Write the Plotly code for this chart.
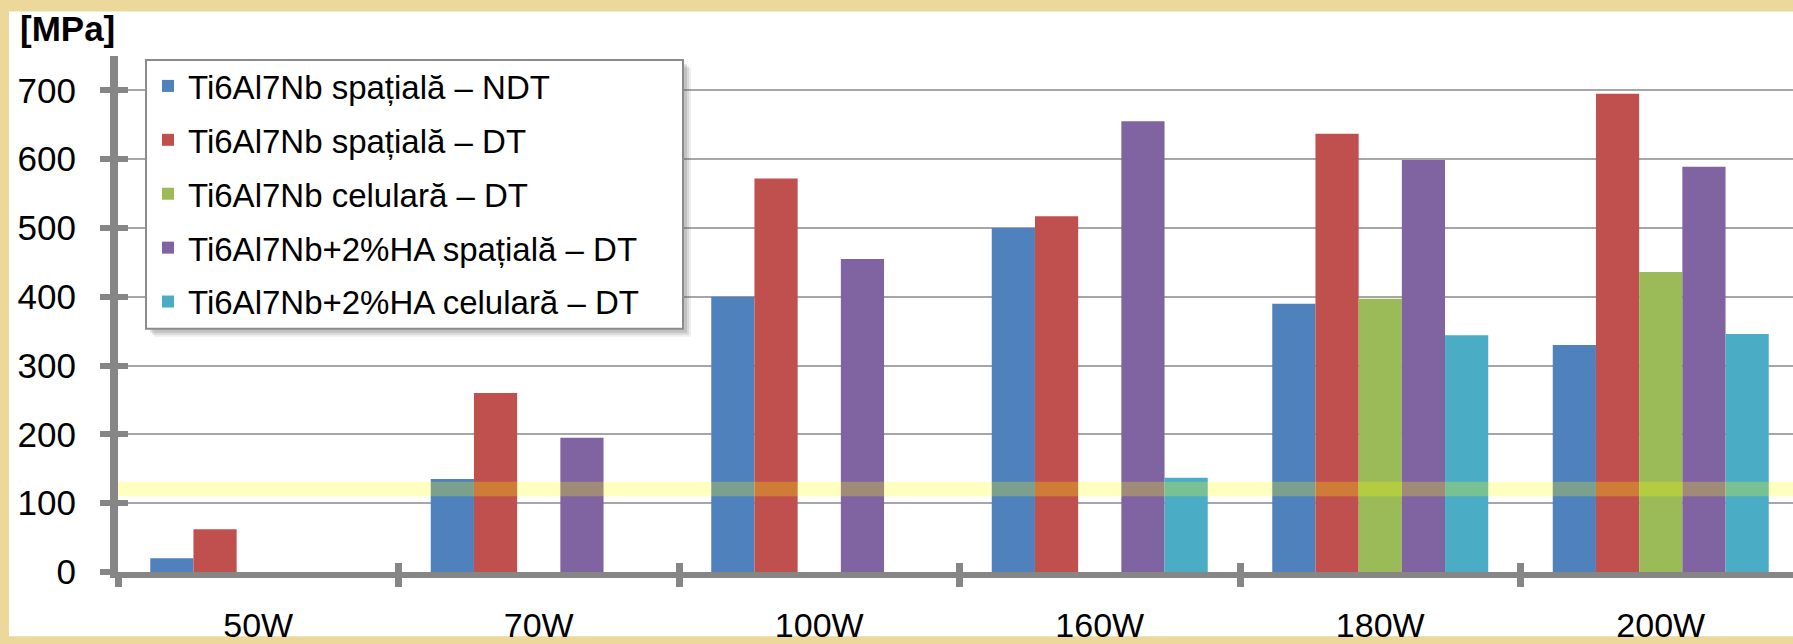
import plotly.graph_objects as go

# ---- data -------------------------------------------------------------
categories = ["50W", "70W", "100W", "160W", "180W", "200W"]

series_names = [
    "Ti6Al7Nb spațială – NDT",
    "Ti6Al7Nb spațială – DT",
    "Ti6Al7Nb celulară – DT",
    "Ti6Al7Nb+2%HA spațială – DT",
    "Ti6Al7Nb+2%HA celulară – DT",
]

ndt_spatiala = [20, 135, 400, 500, 390, 330]
dt_spatiala = [62, 260, 572, 517, 637, 695]
dt_celulara = [None, None, None, None, 397, 436]
ha_dt_spatiala = [None, 195, 455, 655, 599, 589]
ha_dt_celulara = [None, None, None, 137, 344, 346]

# reference strength band [MPa]
band_range = [110, 131]

y_tick_values = [0, 100, 200, 300, 400, 500, 600, 700]

# ---- style ------------------------------------------------------------
colors = ["#4F81BD", "#C0504D", "#9BBB59", "#8064A2", "#4BACC6"]
AXIS_GRAY = "#868686"
GRID_GRAY = "#A6A6A6"
FONT = "Arial, Liberation Sans, sans-serif"

W, H = 1793, 644
L, R, T, B = 118, 1793, 56, 578   # plot-area edges in pixels


def px(x):
    return (x - L) / (R - L)


def py(y):
    return (B - y) / (B - T)


values = [ndt_spatiala, dt_spatiala, dt_celulara, ha_dt_spatiala, ha_dt_celulara]

fig = go.Figure()
for i, (name, vals) in enumerate(zip(series_names, values)):
    fig.add_trace(go.Bar(
        x=categories, y=vals, name=name,
        marker=dict(color=colors[i], line=dict(width=0)),
        legendgroup=f"g{i}",
    ))

cat_width = (R - L) / 280.5

# legend frame (pixels): left, top, right, bottom
FRAME = (146, 60, 683, 332)

fig.update_layout(
    width=W, height=H,
    margin=dict(l=L, r=W - R, t=T, b=H - B),
    paper_bgcolor="#EDD89C",
    plot_bgcolor="white",
    barmode="group",
    bargap=0.23,
    bargroupgap=0,
    font=dict(family=FONT, color="black"),
    showlegend=True,
    legend=dict(
        x=px(148), y=py(58), xanchor="left", yanchor="top",
        bgcolor="rgba(0,0,0,0)", borderwidth=0,
        font=dict(size=33, family=FONT),
        tracegroupgap=8,
        itemwidth=30,
    ),
    xaxis=dict(
        type="category",
        categoryorder="array", categoryarray=categories,
        range=[-0.5, -0.5 + cat_width],
        tickson="boundaries",
        ticks="outside", ticklen=9, tickwidth=7, tickcolor=AXIS_GRAY,
        showline=True, linecolor=AXIS_GRAY, linewidth=6,
        showgrid=False, zeroline=False,
        tickfont=dict(size=34, family=FONT),
        ticklabelstandoff=18,
    ),
    xaxis2=dict(
        overlaying="x", anchor="y", side="bottom",
        range=[-0.5, -0.5 + cat_width],
        tickvals=[0.5, 1.5, 2.5, 3.5, 4.5],
        ticks="inside", ticklen=9, tickwidth=7, tickcolor=AXIS_GRAY,
        showticklabels=False, showline=False, showgrid=False, zeroline=False,
    ),
    yaxis=dict(
        range=[0, 750],
        tickvals=y_tick_values,
        ticks="outside", ticklen=10, tickwidth=6, tickcolor=AXIS_GRAY,
        showline=True, linecolor=AXIS_GRAY, linewidth=8,
        showgrid=True, gridcolor=GRID_GRAY, gridwidth=1.5,
        zeroline=False,
        tickfont=dict(size=35, family=FONT),
        ticklabelstandoff=17,
    ),
    yaxis2=dict(
        overlaying="y", anchor="x", side="left",
        range=[0, 750],
        tickvals=y_tick_values,
        ticks="inside", ticklen=10, tickwidth=6, tickcolor=AXIS_GRAY,
        showticklabels=False, showline=False, showgrid=False, zeroline=False,
    ),
)

# empty trace so the overlay axes (crossing tick halves) are drawn
fig.add_trace(go.Scatter(x=[None], y=[None], xaxis="x2", yaxis="y2",
                         showlegend=False, hoverinfo="skip"))

shapes = [
    # white chart card over the textured page
    dict(type="rect", xref="paper", yref="paper", layer="below",
         x0=px(9), x1=px(1850), y0=py(643), y1=py(11),
         fillcolor="white", line=dict(width=0)),
    # translucent reference band across the plot
    dict(type="rect", xref="paper", yref="y", layer="above",
         x0=0, x1=1, y0=band_range[0], y1=band_range[1],
         fillcolor="rgba(255,255,0,0.25)", line=dict(width=0)),
]
# soft drop shadow behind the legend frame
for off, op in [(8, 0.10), (6, 0.14), (4, 0.18)]:
    shapes.append(dict(type="rect", xref="paper", yref="paper", layer="above",
                       x0=px(FRAME[0] + off), x1=px(FRAME[2] + off),
                       y0=py(FRAME[3] + off), y1=py(FRAME[1] + off),
                       fillcolor=f"rgba(90,90,90,{op})", line=dict(width=0)))
# white legend frame with gray border
shapes.append(dict(type="rect", xref="paper", yref="paper", layer="above",
                   x0=px(FRAME[0]), x1=px(FRAME[2]),
                   y0=py(FRAME[3]), y1=py(FRAME[1]),
                   fillcolor="white", line=dict(color="#8C8C8C", width=2)))
fig.update_layout(shapes=shapes)

fig.add_annotation(
    text="<b>[MPa]</b>", xref="paper", yref="paper",
    x=px(18), y=py(6), xanchor="left", yanchor="top",
    showarrow=False, font=dict(size=35, family=FONT, color="black"),
)

fig.write_html("out.html")
